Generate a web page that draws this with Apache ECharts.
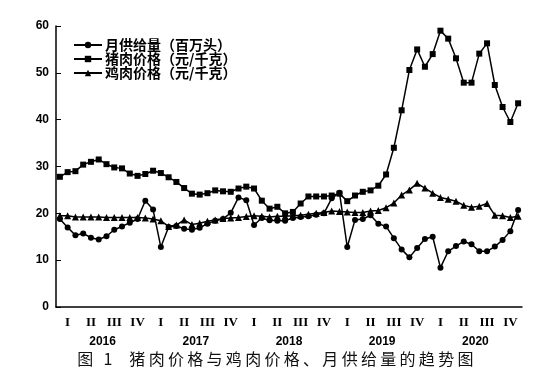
<!DOCTYPE html>
<html>
<head>
<meta charset="utf-8">
<script src="https://cdn.jsdelivr.net/npm/echarts@6/dist/echarts.min.js"></script>
<style>
  html, body { margin: 0; padding: 0; background: #fff; }
  #chart { width: 554px; height: 378px; }
  .caption {
    position: absolute; left: 0; top: 346px; width: 554px; text-align: center;
    font-family: "Noto Sans CJK SC", sans-serif; font-size: 16px; letter-spacing: 3.3px;
    color: #111;
  }
</style>
</head>
<body>
<div id="chart"></div>
<div class="caption">图 1&nbsp; 猪肉价格与鸡肉价格、月供给量的趋势图</div>
<script>
// 2016-2020 月度数据
const years = ['2016', '2017', '2018', '2019', '2020']
const quarterNames = ['I', 'II', 'III', 'IV']
const supply = [18.8, 17.0, 15.3, 15.7, 14.8, 14.4, 15.1, 16.5, 17.2, 18.0, 18.8, 22.7,
  20.8, 12.8, 17.1, 17.3, 16.7, 16.5, 16.9, 17.8, 18.4, 18.8, 20.1, 23.4,
  22.8, 17.5, 19.0, 18.5, 18.4, 18.4, 19.0, 19.2, 19.4, 19.7, 20.0, 23.2,
  24.4, 12.8, 18.6, 18.8, 19.6, 17.8, 17.2, 14.7, 12.3, 10.6, 12.6, 14.5,
  15.0, 8.4, 11.9, 13.0, 14.0, 13.4, 11.9, 11.9, 12.9, 14.3, 16.2, 20.7]
const pork = [27.8, 28.8, 29.0, 30.4, 31.0, 31.5, 30.5, 29.8, 29.6, 28.5, 28.0, 28.4,
  29.1, 28.6, 27.7, 26.7, 25.4, 24.2, 24.0, 24.3, 24.9, 24.7, 24.6, 25.3,
  25.7, 25.3, 22.7, 21.0, 21.4, 20.0, 20.3, 22.1, 23.6, 23.6, 23.6, 23.8,
  24.2, 22.6, 23.8, 24.6, 24.9, 25.9, 28.3, 34.0, 42.0, 50.6, 55.0, 51.3,
  54.0, 59.0, 57.3, 53.1, 47.9, 47.9, 54.1, 56.3, 47.4, 42.7, 39.5, 43.5]
const chicken = [19.5, 19.5, 19.2, 19.2, 19.2, 19.2, 19.1, 19.1, 19.1, 19.1, 19.1, 19.0,
  18.8, 18.4, 17.2, 17.5, 18.6, 17.6, 17.9, 18.3, 18.6, 18.9, 19.0, 19.1,
  19.3, 19.5, 19.4, 19.2, 19.4, 19.4, 19.5, 19.6, 19.8, 20.0, 20.2, 20.5,
  20.4, 20.3, 20.2, 20.2, 20.5, 20.6, 21.2, 22.2, 23.9, 25.0, 26.4, 25.4,
  24.3, 23.4, 23.0, 22.6, 21.7, 21.3, 21.5, 22.1, 19.6, 19.5, 19.1, 19.4]

const months = supply.map((v, i) => years[Math.floor(i / 12)] + '-' + (i % 12 + 1))
const quarters = []
years.forEach(y => quarterNames.forEach(q => quarters.push(q)))

const chart = echarts.init(document.getElementById('chart'))

const lineSeries = (name, data, symbol, size) => ({
  name, type: 'line', data, symbol, symbolSize: size,
  showSymbol: true, showAllSymbol: true,
  lineStyle: { color: '#000', width: 1.5 },
  itemStyle: { color: '#000' },
  animation: false
})

chart.setOption({
  animation: false,
  grid: { left: 56, right: 32, top: 26, bottom: 71 },
  legend: {
    orient: 'vertical', left: 68, top: 33, itemWidth: 28, itemHeight: 8, itemGap: 0,
    textStyle: {
      color: '#000', fontSize: 14, lineHeight: 14, fontWeight: 'bold',
      fontFamily: 'Noto Sans CJK SC', padding: [0, 0, 0, -2]
    },
    data: ['月供给量（百万头）', '猪肉价格（元/千克）', '鸡肉价格（元/千克）']
  },
  xAxis: [
    {
      type: 'category', data: months, boundaryGap: true,
      axisLine: { lineStyle: { color: '#000', width: 1.5 } },
      axisTick: { inside: true, length: 4, interval: 0, lineStyle: { color: '#000' } },
      axisLabel: { show: false }
    },
    {
      type: 'category', data: quarters, position: 'bottom', boundaryGap: true,
      axisLine: { show: false },
      axisTick: { inside: true, length: 6, interval: 0, lineStyle: { color: '#000' } },
      axisLabel: {
        interval: 0, margin: 9, color: '#000', fontSize: 13, fontWeight: 'bold',
        fontFamily: 'Liberation Serif'
      }
    },
    {
      type: 'category', data: years, position: 'bottom', offset: 21, boundaryGap: true,
      axisLine: { show: false }, axisTick: { show: false },
      axisLabel: {
        interval: 0, margin: 8, color: '#000', fontSize: 12, fontWeight: 'bold',
        fontFamily: 'Liberation Sans'
      }
    }
  ],
  yAxis: {
    type: 'value', min: 0, max: 60, interval: 10,
    splitLine: { show: false },
    axisLine: { show: true, lineStyle: { color: '#000', width: 1.5 } },
    axisTick: { show: true, inside: true, length: 5, lineStyle: { color: '#000' } },
    axisLabel: { color: '#000', fontSize: 12, fontWeight: 'bold', fontFamily: 'Liberation Sans', margin: 7 }
  },
  series: [
    lineSeries('月供给量（百万头）', supply, 'circle', 6),
    lineSeries('猪肉价格（元/千克）', pork, 'rect', 6),
    lineSeries('鸡肉价格（元/千克）', chicken, 'triangle', 7)
  ]
})
</script>
</body>
</html>
